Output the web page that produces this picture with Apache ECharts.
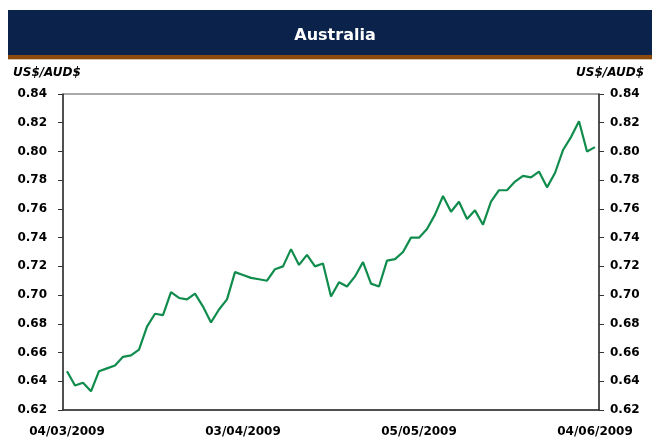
<!DOCTYPE html>
<html>
<head>
<meta charset="utf-8">
<script src="https://cdn.jsdelivr.net/npm/echarts@6/dist/echarts.min.js"></script>
<style>
  html, body { margin: 0; padding: 0; background: #fff; }
  #chart { width: 652px; height: 440px; }
</style>
</head>
<body>
<div id="chart"></div>
<script>
// trading days, 04/03/2009 - 04/06/2009
var dates = [
  '04/03/2009', '05/03/2009', '06/03/2009', '09/03/2009', '10/03/2009', '11/03/2009', '12/03/2009',
  '13/03/2009', '16/03/2009', '17/03/2009', '18/03/2009', '19/03/2009', '20/03/2009', '23/03/2009',
  '24/03/2009', '25/03/2009', '26/03/2009', '27/03/2009', '30/03/2009', '31/03/2009',
  '01/04/2009', '02/04/2009', '03/04/2009', '06/04/2009', '07/04/2009', '08/04/2009', '09/04/2009',
  '10/04/2009', '13/04/2009', '14/04/2009', '15/04/2009', '16/04/2009', '17/04/2009', '20/04/2009',
  '21/04/2009', '22/04/2009', '23/04/2009', '24/04/2009', '27/04/2009', '28/04/2009', '29/04/2009',
  '30/04/2009', '01/05/2009', '04/05/2009', '05/05/2009', '06/05/2009', '07/05/2009', '08/05/2009',
  '11/05/2009', '12/05/2009', '13/05/2009', '14/05/2009', '15/05/2009', '18/05/2009', '19/05/2009',
  '20/05/2009', '21/05/2009', '22/05/2009', '25/05/2009', '26/05/2009', '27/05/2009', '28/05/2009',
  '29/05/2009', '01/06/2009', '02/06/2009', '03/06/2009', '04/06/2009'
];

// US$ per AUD$
var audUsd = [
  0.647, 0.637, 0.639, 0.633, 0.647, 0.649, 0.651, 0.657, 0.658, 0.662,
  0.678, 0.687, 0.686, 0.702, 0.698, 0.697, 0.701, 0.692, 0.681, 0.690,
  0.697, 0.716, 0.714, 0.712, 0.711, 0.710, 0.718, 0.720, 0.732, 0.721,
  0.728, 0.720, 0.722, 0.699, 0.709, 0.706, 0.713, 0.723, 0.708, 0.706,
  0.724, 0.725, 0.730, 0.740, 0.740, 0.746, 0.756, 0.769, 0.758, 0.765,
  0.753, 0.759, 0.749, 0.765, 0.773, 0.773, 0.779, 0.783, 0.782, 0.786,
  0.775, 0.785, 0.801, 0.810, 0.821, 0.800, 0.803
];

var yMin = 0.62, yMax = 0.84, yStep = 0.02;
var axisName = 'US$/AUD$';
var titleText = 'Australia';

var font = 'DejaVu Sans, Arial, sans-serif';
var labelStyle = {
  color: '#000',
  fontWeight: 'bold',
  fontSize: 12,
  fontFamily: font
};

var chart = echarts.init(document.getElementById('chart'), null, { renderer: 'canvas' });

var yAxisBase = {
  type: 'value',
  min: yMin,
  max: yMax,
  interval: yStep,
  axisLine: { show: true, lineStyle: { color: '#333', width: 1.5 } },
  axisTick: { show: true, length: 5, lineStyle: { color: '#333' } },
  splitLine: { show: false },
  axisLabel: Object.assign({ formatter: function (v) { return v.toFixed(2); } }, labelStyle)
};

var option = {
  animation: false,
  backgroundColor: '#fff',
  title: {
    text: titleText,
    left: 330,
    top: 23,
    textAlign: 'center',
    textStyle: { color: '#fff', fontSize: 16, fontWeight: 'bold', fontFamily: font }
  },
  graphic: [
    { type: 'rect', z: -1, shape: { x: 8, y: 10, width: 644, height: 45 }, style: { fill: '#0b234b' } },
    { type: 'rect', z: -1, shape: { x: 8, y: 55, width: 644, height: 4 }, style: { fill: '#8b4a0c' } },
    { type: 'rect', z: -1, shape: { x: 8, y: 59, width: 644, height: 1 }, style: { fill: '#d9c3a8' } },
    {
      type: 'text', left: 13, top: 67,
      style: { text: axisName, fill: '#000', font: 'italic bold 12px ' + font }
    },
    {
      type: 'text', right: 8, top: 67,
      style: { text: axisName, fill: '#000', font: 'italic bold 12px ' + font }
    }
  ],
  grid: {
    left: 63, right: 53, top: 94, bottom: 30,
    show: true, borderColor: '#555', borderWidth: 1
  },
  xAxis: {
    type: 'category',
    data: dates,
    boundaryGap: true,
    axisLine: { show: true, lineStyle: { color: '#333', width: 1.5 } },
    axisTick: { show: false },
    axisLabel: Object.assign({ interval: 21, margin: 16 }, labelStyle)
  },
  yAxis: [
    Object.assign({}, yAxisBase, {
      position: 'left',
      axisLabel: Object.assign({}, yAxisBase.axisLabel, { margin: 16 })
    }),
    Object.assign({}, yAxisBase, {
      position: 'right',
      axisLabel: Object.assign({}, yAxisBase.axisLabel, { margin: 11 })
    })
  ],
  series: [{
    name: titleText,
    type: 'line',
    data: audUsd,
    yAxisIndex: 0,
    showSymbol: false,
    lineStyle: { color: '#108c4c', width: 2.2 }
  }]
};

chart.setOption(option);
</script>
</body>
</html>
